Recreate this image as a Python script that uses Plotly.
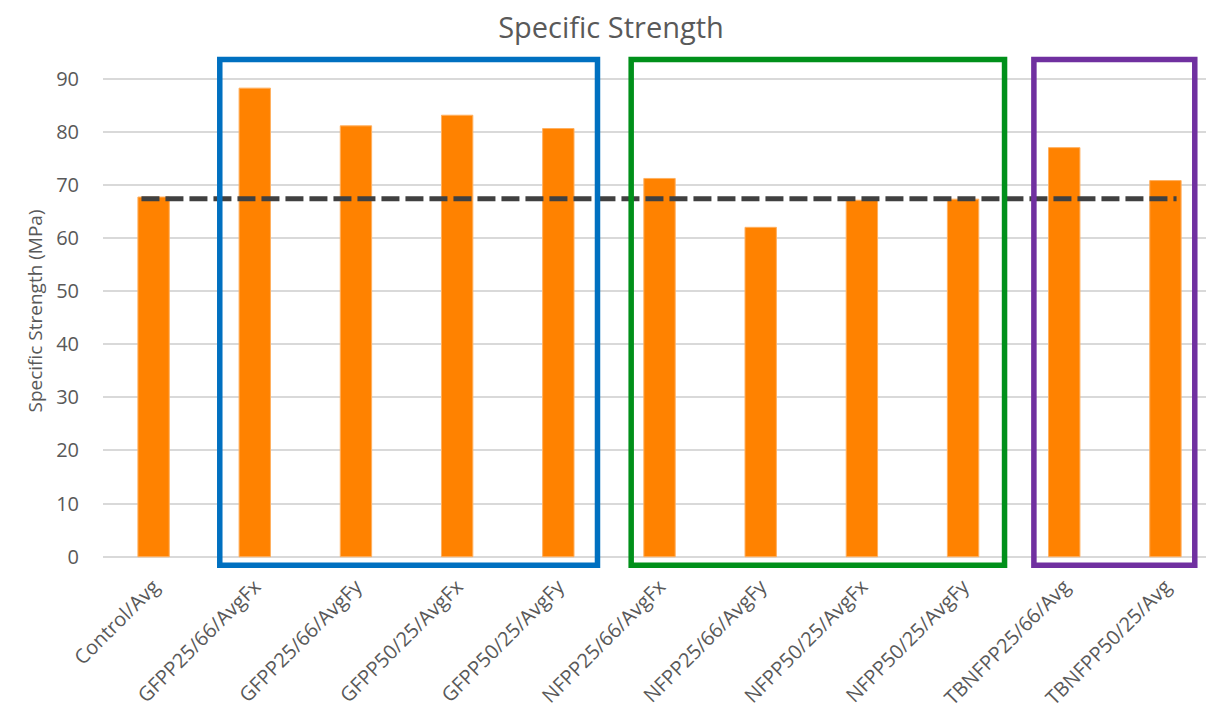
import plotly.graph_objects as go

categories = ["Control/Avg", "GFPP25/66/AvgFx", "GFPP25/66/AvgFy", "GFPP50/25/AvgFx",
              "GFPP50/25/AvgFy", "NFPP25/66/AvgFx", "NFPP25/66/AvgFy", "NFPP50/25/AvgFx",
              "NFPP50/25/AvgFy", "TBNFPP25/66/Avg", "TBNFPP50/25/Avg"]
values = [67.7, 88.2, 81.1, 83.1, 80.6, 71.2, 62.0, 67.1, 67.3, 77.0, 70.8]
reference_value = 67.4
y_ticks = [0, 10, 20, 30, 40, 50, 60, 70, 80, 90]

FONT = "Open Sans"
TXT = "#595959"

fig = go.Figure()
fig.add_trace(go.Bar(
    x=list(range(len(categories))), y=values,
    width=0.31,
    marker=dict(color="#FF8200", line=dict(color="#FFB060", width=1)),
    showlegend=False,
))
fig.add_trace(go.Scatter(
    x=[-0.12, 10.11], y=[reference_value, reference_value],
    mode="lines", line=dict(color="#404040", width=5, dash="18px,6px"),
    showlegend=False, cliponaxis=False,
))

boxes = [(0.654, 4.387, "#0070C0"), (4.72, 8.41, "#00901A"), (8.70, 10.29, "#7030A0")]
for x0, x1, c in boxes:
    fig.add_shape(type="rect", xref="x", yref="y", x0=x0, x1=x1, y0=-1.6, y1=93.6,
                  line=dict(color=c, width=5.5), layer="above")

fig.update_layout(
    width=1206, height=706,
    margin=dict(l=95, r=0, t=44, b=144, autoexpand=False),
    plot_bgcolor="white", paper_bgcolor="white",
    title=dict(text="Specific Strength", x=0.5, xanchor="center",
               yref="container", y=0.9725, yanchor="middle",
               font=dict(family=FONT, size=29, color=TXT)),
    font=dict(family=FONT, color=TXT),
)
fig.update_xaxes(
    range=[-0.5, 10.48], tickmode="array", tickvals=list(range(len(categories))),
    ticktext=categories, tickangle=-45, tickfont=dict(size=20, color=TXT),
    showgrid=False, showline=False, zeroline=False, ticks="", automargin=False,
)
fig.update_yaxes(
    range=[-2.5, 95], tickmode="array", tickvals=y_ticks,
    tickfont=dict(size=20, color=TXT), showgrid=True, gridcolor="#D9D9D9", gridwidth=1.5,
    zeroline=False, showline=False, ticks="", ticklabelstandoff=23, automargin=False,
    title=dict(text="Specific Strength (MPa)", font=dict(size=19, color=TXT), standoff=8),
)
fig.write_html("out.html")
